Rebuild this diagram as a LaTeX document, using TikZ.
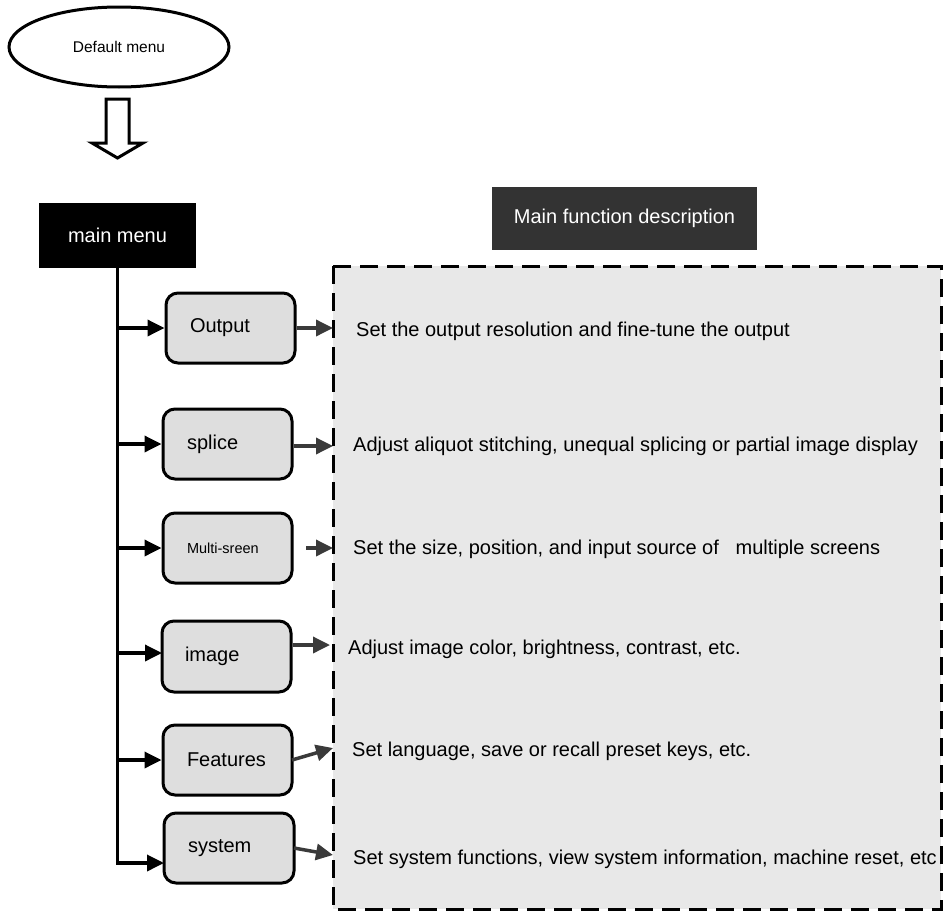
\documentclass[tikz,border=0pt]{standalone}
\usepackage{fontspec}
\setmainfont{Liberation Sans}
\usetikzlibrary{arrows.meta,shapes.geometric}
\definecolor{boxgray}{HTML}{DEDEDE}
\definecolor{panelgray}{HTML}{E8E8E8}
\definecolor{darkbox}{HTML}{333333}
\definecolor{arrowgray}{HTML}{3A3A3A}
\begin{document}
\begin{tikzpicture}[x=1pt,y=-1pt,
  bigfont/.style={font=\fontsize{20}{24}\selectfont},
  menubox/.style={draw, line width=3pt, rounded corners=12pt, fill=boxgray,
    minimum width=129pt, minimum height=70pt, inner xsep=24pt, inner ysep=0pt, bigfont},
  desc/.style={anchor=west, inner sep=0pt, bigfont},
  inarrow/.style={line width=3.5pt, -{Triangle[length=17pt,width=16pt]}},
  outarrow/.style={line width=3.5pt, draw=arrowgray, -{Triangle[length=17pt,width=16pt]}}
]
\useasboundingbox (0,0) rectangle (944,910);

% default menu
\node[draw, ellipse, line width=3pt, minimum width=220pt, minimum height=80pt,
  inner sep=0pt, font=\fontsize{15.5}{18}\selectfont] (default) at (119,47) {Default menu};
% hollow block arrow
\draw[line width=3pt, fill=white, line join=miter]
  (106,99) -- (129,99) -- (129,143) -- (143,143) -- (117.5,158) -- (92,143) -- (106,143) -- cycle;

% main menu
\node[fill=black, text=white, minimum width=157pt, minimum height=65pt, inner sep=0pt, bigfont]
  (mainmenu) at (117.5,235.5) {main menu};

% main function description header
\node[fill=darkbox, text=white, minimum width=265pt, minimum height=63pt, inner sep=0pt, bigfont]
  (header) at (624.5,218.5) {Main function description};

% dashed panel
\draw[fill=panelgray, line width=3pt, dash pattern=on 18pt off 9pt] (333,266) rectangle (941,909);

% menu boxes
\node[menubox] (output)   at (230.5,328) {\makebox[81pt][l]{Output}};
\node[menubox] (splice)   at (227.5,444) {\makebox[81pt][l]{splice}};
\node[menubox, font=\fontsize{14.5}{17}\selectfont] (multi) at (227.5,548) {\makebox[81pt][l]{Multi-sreen}};
\node[menubox, minimum height=71pt, inner xsep=23pt] (image) at (226.5,656.5) {\makebox[83pt][l]{image}};
\node[menubox] (features) at (227.5,760) {\makebox[81pt][l]{Features}};
\node[menubox, minimum width=130pt] (system) at (229,848) {\makebox[82pt][l]{system}};

% descriptions
\node[desc] (d1) at (356,331) {Set the output resolution and fine-tune the output};
\node[desc] (d2) at (353,446) {Adjust aliquot stitching, unequal splicing or partial image display};
\node[desc] (d3) at (353,549) {Set the size, position, and input source of~~~multiple screens};
\node[desc] (d4) at (348,649) {Adjust image color, brightness, contrast, etc.};
\node[desc] (d5) at (352,751) {Set language, save or recall preset keys, etc.};
\node[desc] (d6) at (353,859) {Set system functions, view system information, machine reset, etc};

% trunk and branches
\coordinate (trunk) at (117,300);
\coordinate (sysin) at (164,863);
\draw[inarrow] (mainmenu.south) |- (sysin);
\draw[inarrow] (trunk |- output.west) -- (output.west);
\draw[inarrow] (trunk |- splice.west) -- (splice.west);
\draw[inarrow] (trunk |- multi.west) -- (multi.west);
\coordinate (imgin) at (162,653);
\draw[inarrow] (trunk |- imgin) -- (imgin);
\draw[inarrow] (trunk |- features.west) -- (features.west);

% out arrows to panel
\coordinate (o1) at (333,328);
\coordinate (o2) at (333,446);
\coordinate (o3s) at (306,548);
\coordinate (o3) at (333,548);
\coordinate (o4) at (330,645);
\coordinate (o5s) at (292,760);
\coordinate (o5) at (333,748);
\coordinate (o6s) at (294,848);
\coordinate (o6) at (333,855);
\draw[outarrow] (output.east) -- (o1);
\draw[outarrow] (splice.east |- o2) -- (o2);
\draw[outarrow] (o3s) -- (o3);
\draw[outarrow] (image.east |- o4) -- (o4);
\draw[outarrow] (o5s) -- (o5);
\draw[outarrow] (o6s) -- (o6);
\end{tikzpicture}
\end{document}
